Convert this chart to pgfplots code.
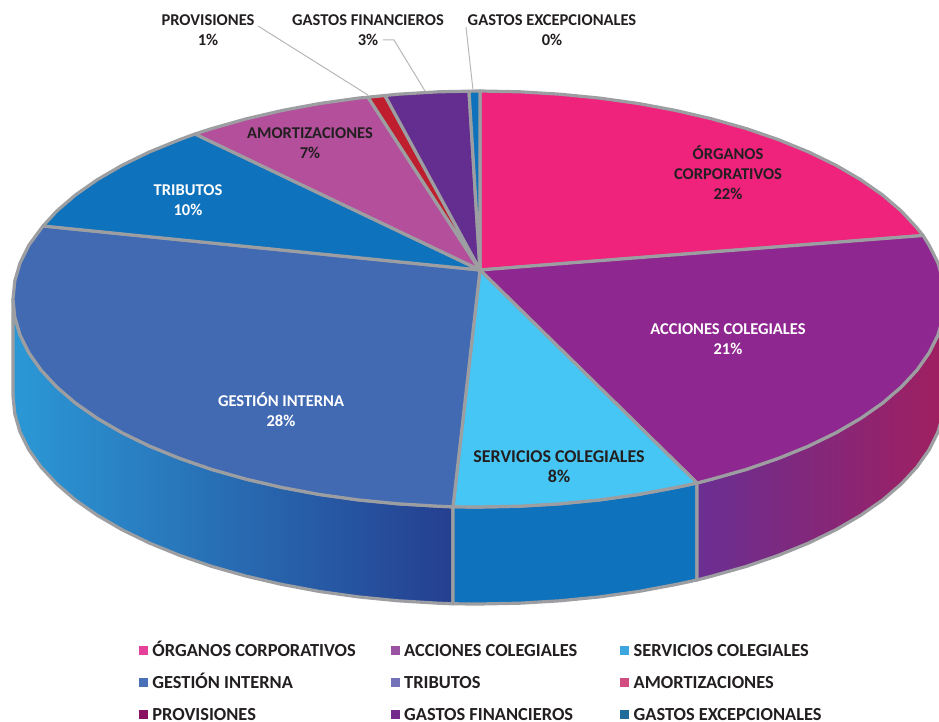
\documentclass[border=0pt]{standalone}
\usepackage{fontspec}
\setmainfont{Carlito}
\usepackage{pgfplots}
\pgfplotsset{compat=1.18}
\definecolor{edge}{HTML}{9C9EA1}
\definecolor{ink}{HTML}{231F20}
\definecolor{leader}{HTML}{B5B7BA}
% top face
\definecolor{sliceA}{HTML}{EF227C}
\definecolor{sliceB}{HTML}{8E278F}
\definecolor{sliceC}{HTML}{46C6F4}
\definecolor{sliceD}{HTML}{416AB3}
\definecolor{sliceE}{HTML}{0F72BC}
\definecolor{sliceF}{HTML}{B44F9C}
\definecolor{sliceG}{HTML}{BE1E2D}
\definecolor{sliceH}{HTML}{632E8F}
\definecolor{sliceI}{HTML}{0F72BC}
% walls
\definecolor{wallA}{HTML}{2B98D6}
\definecolor{wallB}{HTML}{2470B6}
\definecolor{wallC}{HTML}{253F8F}
\definecolor{wallM}{HTML}{0F72BC}
\definecolor{wallD}{HTML}{6A2F92}
\definecolor{wallE}{HTML}{A01F60}
% legend
\definecolor{legA}{HTML}{E5419B}
\definecolor{legB}{HTML}{9A52A3}
\definecolor{legC}{HTML}{3EA6DE}
\definecolor{legD}{HTML}{4A70B7}
\definecolor{legE}{HTML}{7472B8}
\definecolor{legF}{HTML}{D14C80}
\definecolor{legG}{HTML}{8A1263}
\definecolor{legH}{HTML}{742A8B}
\definecolor{legI}{HTML}{1F6C9A}
\begin{document}
\begin{tikzpicture}
\useasboundingbox (0pt,0pt) rectangle (939pt,722pt);
\begin{axis}[
    at={(0pt,0pt)},anchor=south west,
    scale only axis,width=939pt,height=722pt,
    xmin=0,xmax=939,ymin=0,ymax=722,y dir=reverse,
    axis lines=none,
    legend columns=3,
    legend cell align=left,
    legend image code/.code={\fill[#1] (-4pt,-4pt) rectangle (4pt,4pt);},
    legend style={draw=none,fill=none,at={(axis cs:139,641)},anchor=north west,
        font=\fontsize{18.4}{20}\selectfont\bfseries\color{ink},
        inner sep=0pt,outer sep=0pt,row sep=14pt,
        nodes={text height=13pt,text depth=1pt},
        /tikz/every odd column/.append style={column sep=3pt},
        /tikz/column 2/.style={column sep=33pt},
        /tikz/column 4/.style={column sep=41pt}},
    every axis plot/.append style={forget plot},
    slice/.style={draw=edge,line width=3.2pt,line join=round},
]
% legend
\addlegendimage{color=legA}\addlegendentry{ÓRGANOS CORPORATIVOS}
\addlegendimage{color=legB}\addlegendentry{ACCIONES COLEGIALES}
\addlegendimage{color=legC}\addlegendentry{SERVICIOS COLEGIALES}
\addlegendimage{color=legD}\addlegendentry{GESTIÓN INTERNA}
\addlegendimage{color=legE}\addlegendentry{TRIBUTOS}
\addlegendimage{color=legF}\addlegendentry{AMORTIZACIONES}
\addlegendimage{color=legG}\addlegendentry{PROVISIONES}
\addlegendimage{color=legH}\addlegendentry{GASTOS FINANCIEROS}
\addlegendimage{color=legI}\addlegendentry{GASTOS EXCEPCIONALES}

% side walls
\addplot[slice,left color=wallA,middle color=wallB,right color=wallC] coordinates {
(13,299)(14.8,317.1)(20.1,335.1)(28.9,352.8)(41.1,370.1)(56.7,386.9)(75.4,403)(97.3,418.3)(122,432.7)(149.5,446.1)(179.5,458.3)(211.7,469.4)(246,479.1)(282.1,487.5)(319.6,494.5)(358.4,499.9)(398.1,503.8)(438.4,506.2)(453,506.8)
(453,603.8)(438.4,603.2)(398.1,600.8)(358.4,596.9)(319.6,591.5)(282.1,584.5)(246,576.1)(211.7,566.4)(179.5,555.3)(149.5,543.1)(122,529.7)(97.3,515.3)(75.4,500)(56.7,483.9)(41.1,467.1)(28.9,449.8)(20.1,432.1)(14.8,414.1)(13,396)
} --cycle;
\addplot[slice,fill=wallM] coordinates {
(453,506.8)(479,507)(519.6,506.2)(559.9,503.8)(599.6,499.9)(638.4,494.5)(675.9,487.5)(697,483)
(697,580)(675.9,584.5)(638.4,591.5)(599.6,596.9)(559.9,600.8)(519.6,603.2)(479,604)(453,603.8)
} --cycle;
\addplot[slice,left color=wallD,right color=wallE] coordinates {
(697,483)(712,479.1)(746.3,469.4)(778.5,458.3)(808.5,446.1)(836,432.7)(860.7,418.3)(882.6,403)(901.3,386.9)(916.9,370.1)(929.1,352.8)(937.9,335.1)(943.2,317.1)(945,299)
(945,396)(943.2,414.1)(937.9,432.1)(929.1,449.8)(916.9,467.1)(901.3,483.9)(882.6,500)(860.7,515.3)(836,529.7)(808.5,543.1)(778.5,555.3)(746.3,566.4)(712,576.1)(697,580)
} --cycle;

% top face
\addplot[slice,fill=sliceA] coordinates {
(480,270)(480,91)(519.6,91.8)(559.9,94.2)(599.6,98.1)(638.4,103.5)(675.9,110.5)(712,118.9)(746.3,128.6)(778.5,139.7)(808.5,151.9)(836,165.3)(860.7,179.7)(882.6,195)(901.3,211.1)(916.9,227.9)(923,235.5)
} --cycle;
\addplot[slice,fill=sliceB] coordinates {
(480,270)(923,235.5)(929.1,245.2)(937.9,262.9)(943.2,280.9)(945,299)(943.2,317.1)(937.9,335.1)(929.1,352.8)(916.9,370.1)(901.3,386.9)(882.6,403)(860.7,418.3)(836,432.7)(808.5,446.1)(778.5,458.3)(746.3,469.4)(712,479.1)(697,483)
} --cycle;
\addplot[slice,fill=sliceC] coordinates {
(480,270)(697,483)(675.9,487.5)(638.4,494.5)(599.6,499.9)(559.9,503.8)(519.6,506.2)(479,507)(453,506.8)
} --cycle;
\addplot[slice,fill=sliceD] coordinates {
(480,270)(453,506.8)(438.4,506.2)(398.1,503.8)(358.4,499.9)(319.6,494.5)(282.1,487.5)(246,479.1)(211.7,469.4)(179.5,458.3)(149.5,446.1)(122,432.7)(97.3,418.3)(75.4,403)(56.7,386.9)(41.1,370.1)(28.9,352.8)(20.1,335.1)(14.8,317.1)(13,299)(14.8,280.9)(20.1,262.9)(28.9,245.2)(43,226)
} --cycle;
\addplot[slice,fill=sliceE] coordinates {
(480,270)(43,226)(56.7,211.1)(75.4,195)(97.3,179.7)(122,165.3)(149.5,151.9)(179.5,139.7)(195,134)
} --cycle;
\addplot[slice,fill=sliceF] coordinates {
(480,270)(195,134)(211.7,128.6)(246,118.9)(282.1,110.5)(319.6,103.5)(358.4,98.1)(368,97.2)
} --cycle;
\addplot[slice,fill=sliceG] coordinates {
(480,270)(368,97.2)(385,95.5)
} --cycle;
\addplot[slice,fill=sliceH] coordinates {
(480,270)(385,95.5)(398.1,94.2)(438.4,91.8)(469,91.2)
} --cycle;
\addplot[slice,fill=sliceI] coordinates {
(480,270)(469,91.2)(480,91)
} --cycle;

% leader lines
\addplot[leader,line width=1pt] coordinates {(258,26)(368,95)};
\addplot[leader,line width=1pt] coordinates {(383,40)(394,40)(425,91)};
\addplot[leader,line width=1pt] coordinates {(466,27)(473,90)};

% labels
\tikzset{lab/.style={font=\fontsize{16.5}{20}\selectfont\bfseries,align=center,text=ink,inner sep=0pt}}
\node[lab] at (axis cs:208,30) {PROVISIONES\\1\%};
\node[lab] at (axis cs:368,30) {GASTOS FINANCIEROS\\3\%};
\node[lab] at (axis cs:552,30) {GASTOS EXCEPCIONALES\\0\%};
\node[lab] at (axis cs:310,143.5) {AMORTIZACIONES\\7\%};
\node[lab,text=white] at (axis cs:188,200) {TRIBUTOS\\10\%};
\node[lab] at (axis cs:728,172.5) {ÓRGANOS\\CORPORATIVOS\\22\%};
\node[lab,text=white] at (axis cs:728,339) {ACCIONES COLEGIALES\\21\%};
\node[lab,text=white] at (axis cs:281,410) {GESTIÓN INTERNA\\28\%};
\node[lab,font=\fontsize{18}{20}\selectfont\bfseries] at (axis cs:559,467) {SERVICIOS COLEGIALES\\8\%};
\end{axis}
\end{tikzpicture}
\end{document}
